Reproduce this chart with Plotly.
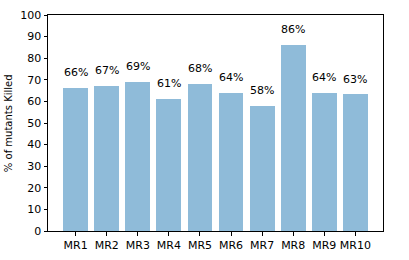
import plotly.graph_objects as go

categories = ["MR1", "MR2", "MR3", "MR4", "MR5", "MR6", "MR7", "MR8", "MR9", "MR10"]
killed_pct = [66.4, 67.2, 69.1, 61.3, 68.2, 64.0, 58.1, 86.3, 64.0, 63.2]
pct_labels = ["66%", "67%", "69%", "61%", "68%", "64%", "58%", "86%", "64%", "63%"]
y_ticks = [0, 10, 20, 30, 40, 50, 60, 70, 80, 90, 100]

FONT = "DejaVu Sans"
x_idx = list(range(len(categories)))

fig = go.Figure()
fig.add_trace(go.Bar(
    x=x_idx, y=killed_pct, width=0.8,
    marker=dict(color="#8fbbd9", line=dict(width=0)),
    hoverinfo="skip",
))

for i, (v, lab) in enumerate(zip(killed_pct, pct_labels)):
    fig.add_annotation(
        x=i, y=v + 3.2, xref="x", yref="y", text=lab, showarrow=False,
        xanchor="center", yanchor="bottom",
        font=dict(family=FONT, size=11, color="black"),
    )

fig.add_annotation(
    x=-0.119, y=0.5, xref="paper", yref="paper", text="% of mutants Killed",
    showarrow=False, textangle=-90, xanchor="center", yanchor="middle",
    font=dict(family=FONT, size=10, color="black"),
)

fig.update_layout(
    width=409, height=260,
    margin=dict(l=48, r=26, t=15, b=29, pad=0, autoexpand=False),
    paper_bgcolor="white", plot_bgcolor="white",
    showlegend=False, bargap=0,
    font=dict(family=FONT, size=11, color="black"),
    xaxis=dict(
        range=[-0.89, 9.89], tickmode="array", tickvals=x_idx, ticktext=categories,
        tickangle=0,
        ticks="outside", ticklen=3.5, tickwidth=1, tickcolor="black",
        showline=True, linecolor="black", linewidth=1, mirror=True,
        showgrid=False, zeroline=False, automargin=False,
        tickfont=dict(family=FONT, size=11, color="black"),
    ),
    yaxis=dict(
        range=[0, 100], tickmode="array", tickvals=y_ticks,
        ticks="outside", ticklen=3.5, tickwidth=1, tickcolor="black",
        showline=True, linecolor="black", linewidth=1, mirror=True,
        showgrid=False, zeroline=False, automargin=False,
        tickfont=dict(family=FONT, size=11, color="black"),
    ),
)

fig.write_html(
    "out.html",
    config={"displayModeBar": False, "staticPlot": True},
    post_script="document.body.style.margin='0';document.body.style.padding='0';",
)
